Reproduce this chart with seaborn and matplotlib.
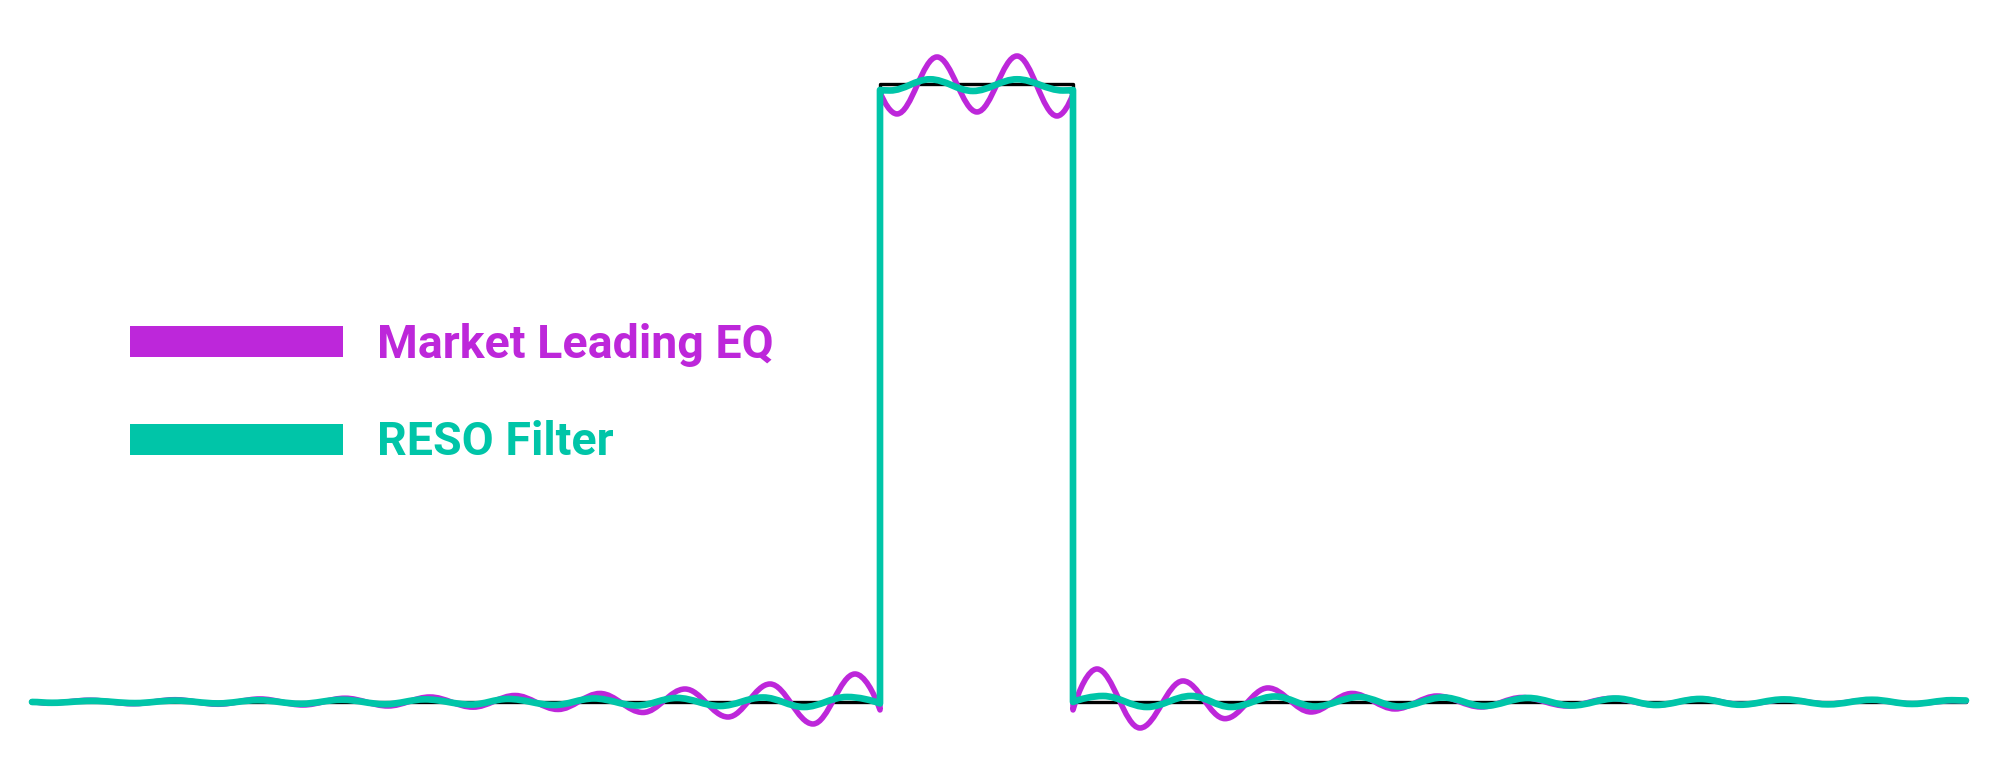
import pandas as pd
import seaborn as sns
import matplotlib.pyplot as plt
from matplotlib.path import Path
from matplotlib.patches import PathPatch, Rectangle

# time in samples, level in % of the pulse height
pulse_x = [32, 880, 880, 1073, 1073, 1966]
pulse_y = [0, 0, 100, 100, 0, 0]

# extrema of the "Market Leading EQ" response
mle_x = [32, 48, 90, 133, 175, 218, 260, 303, 345, 388, 430, 473, 515, 558, 600, 643,
         685, 728, 770, 813, 855, 880,
         880, 897, 937, 977, 1017, 1057, 1073,
         1073, 1097, 1140, 1183, 1225, 1268, 1311, 1352, 1395, 1437, 1481, 1522,
         1567, 1611, 1656, 1700, 1742, 1786, 1828, 1870, 1913, 1955, 1966]
mle_y = [0, -0.21, 0.29, -0.29, 0.37, -0.37, 0.49, -0.49, 0.61, -0.65, 0.81, -0.84,
         1.05, -1.21, 1.38, -1.70, 2.10, -2.43, 2.91, -3.56, 4.53, -1.29,
         98.71, 95.15, 104.37, 95.47, 104.53, 94.82, 98.38,
         -1.29, 5.34, -4.21, 3.40, -2.70, 2.27, -1.62, 1.38, -1.13, 0.97, -0.81, 0.73,
         -0.65, 0.57, -0.49, 0.49, -0.40, 0.37, -0.32, 0.32, -0.29, 0.24, 0.16]

# extrema of the "RESO Filter" response
reso_x = [32, 52, 92, 135, 175, 218, 258, 301, 342, 385, 425, 471, 508, 554, 594, 637,
          677, 720, 763, 804, 847, 880,
          880, 890, 930, 973, 1017, 1063, 1073,
          1073, 1103, 1147, 1191, 1231, 1275, 1315, 1359, 1399, 1443, 1484, 1528,
          1572, 1616, 1656, 1700, 1740, 1784, 1828, 1872, 1912, 1952, 1966]
reso_y = [0, -0.13, 0.18, -0.18, 0.23, -0.23, 0.29, -0.29, 0.36, -0.36, 0.42, -0.42,
          0.49, -0.49, 0.57, -0.57, 0.65, -0.65, 0.73, -0.81, 0.81, -0.24,
          99.03, 98.95, 100.76, 98.87, 100.76, 98.95, 99.03,
          0, 0.97, -0.81, 0.97, -0.81, 0.89, -0.73, 0.81, -0.73, 0.73, -0.65, 0.65,
          -0.57, 0.57, -0.49, 0.49, -0.45, 0.42, -0.39, 0.36, -0.32, 0.29, 0.24]

series_names = ["Market Leading EQ", "RESO Filter"]
series_colors = ["#BD27DA", "#00C5A8"]


def smooth_path(xs, ys, k=0.36):
    # cubic curve through the extrema, straight lines for the jumps
    verts = [(xs[0], ys[0])]
    codes = [Path.MOVETO]
    n = len(xs)
    for i in range(1, n):
        x0, y0, x1, y1 = xs[i - 1], ys[i - 1], xs[i], ys[i]
        dx = x1 - x0
        if dx == 0:
            verts.append((x1, y1))
            codes.append(Path.LINETO)
            continue
        c1 = (x0 + k * dx, y0)
        c2 = (x1 - k * dx, y1)
        if i + 1 < n and xs[i + 1] == x1:
            c2 = (x1 - 0.25 * dx, y1 + 0.5 * (y0 - y1))
        if i - 2 >= 0 and xs[i - 2] == x0:
            c1 = (x0 + 0.25 * dx, y0 + 0.5 * (y1 - y0))
        verts += [c1, c2, (x1, y1)]
        codes += [Path.CURVE4] * 3
    return Path(verts, codes)


sns.set_theme(style="white")
plt.rcParams["font.family"] = ["Roboto", "DejaVu Sans"]

fig = plt.figure(figsize=(19.99, 7.83), dpi=100)
ax = fig.add_axes([0, 0, 1, 1])

df_pulse = pd.DataFrame({"t": pulse_x, "level": pulse_y})
sns.lineplot(data=df_pulse, x="t", y="level", ax=ax, color="black", lw=2.4,
             sort=False, estimator=None, zorder=2)

lws = [4.0, 4.8]
for j, (xs, ys, col, lw) in enumerate(zip([mle_x, reso_x], [mle_y, reso_y],
                                          series_colors, lws)):
    ax.add_patch(PathPatch(smooth_path(xs, ys), facecolor="none", edgecolor=col,
                           lw=lw, capstyle="round", joinstyle="round", zorder=3 + j))

ax.set_xlim(0, 1999)
ax.set_ylim(-13.11, 113.59)
ax.axis("off")

# legend drawn by hand
bar_y = [0.544, 0.419]
text_y = [0.543, 0.419]
for name, col, by, ty in zip(series_names, series_colors, bar_y, text_y):
    ax.add_patch(Rectangle((0.065, by), 0.1066, 0.04, transform=ax.transAxes,
                           facecolor=col, edgecolor="none"))
    ax.text(0.1886, ty, name, transform=ax.transAxes, color=col, fontsize=33.5,
            fontweight="bold", va="baseline", ha="left")

fig.savefig("out.png", dpi=100)
